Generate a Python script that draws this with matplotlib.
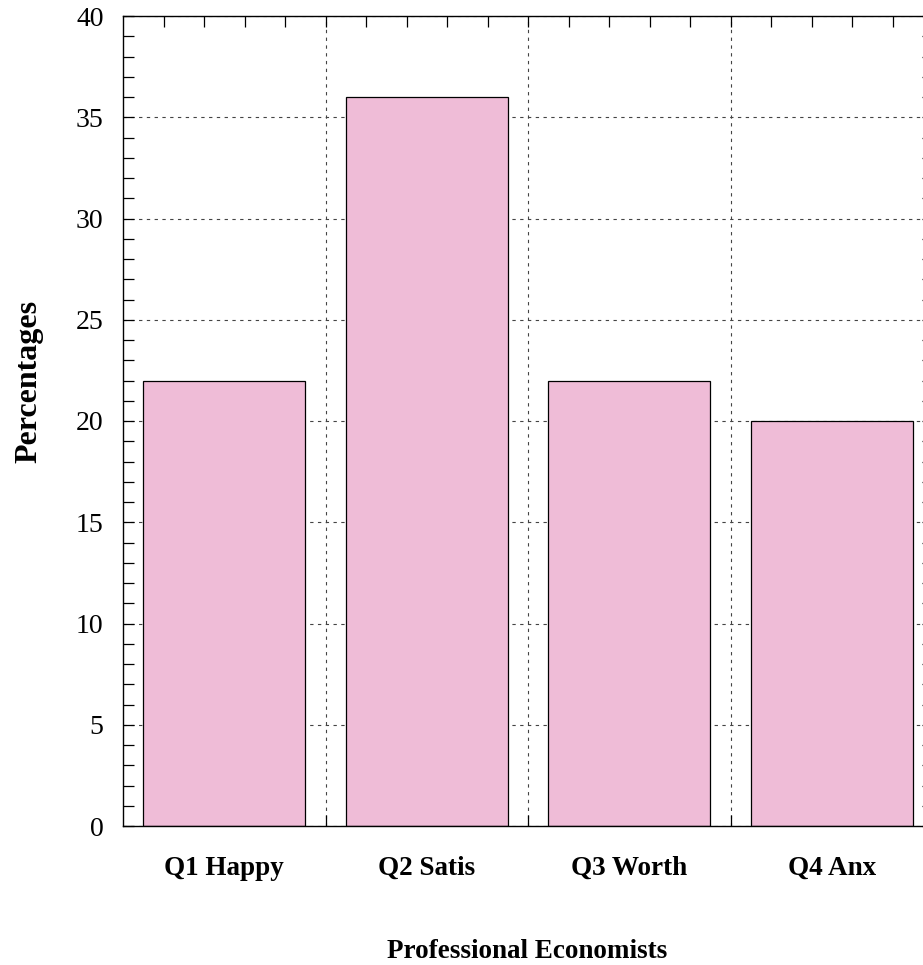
import numpy as np
import matplotlib.pyplot as plt
from matplotlib.ticker import MultipleLocator, FixedLocator

categories = ['Q1 Happy', 'Q2 Satis', 'Q3 Worth', 'Q4 Anx']
values = [22, 36, 22, 20]

plt.rcParams['font.family'] = ['Liberation Serif', 'DejaVu Serif']

W, H = 923, 965
fig = plt.figure(figsize=(W / 100, H / 100), dpi=100)
# plot area runs a little past the right edge of the image, as in the original
left, right, top, bottom = 123, 933, 16, 826
ax = fig.add_axes([left / W, 1 - bottom / H, (right - left) / W, (bottom - top) / H])

x = np.arange(len(categories))
ax.bar(x, values, width=0.8, color='#efbcd7', edgecolor='black', linewidth=0.9, zorder=2)

ax.set_xlim(-0.5, 3.5)
ax.set_ylim(0, 40)

ax.xaxis.set_major_locator(FixedLocator([0.5, 1.5, 2.5]))
ax.xaxis.set_minor_locator(FixedLocator(np.arange(-0.3, 3.5, 0.2)))
ax.set_xticklabels([])
ax.yaxis.set_major_locator(MultipleLocator(5))
ax.yaxis.set_minor_locator(MultipleLocator(1))

ax.tick_params(which='both', direction='in', top=True, right=True, length=8, width=0.9,
               labelsize=20)
ax.tick_params(axis='y', which='major', pad=14)
ax.grid(True, which='major', linestyle=(0, (3, 4)), color='#444444', linewidth=0.8, zorder=1)
for s in ax.spines.values():
    s.set_linewidth(1.0)

# category labels sit well below the axis, centred on each bar
trans = ax.transData + plt.matplotlib.transforms.ScaledTranslation(0, 0, fig.dpi_scale_trans)
for xi, lab in zip(x, categories):
    xpix = ax.transData.transform((xi, 0))[0]
    fig.text(xpix / W, 1 - 875 / H, lab, ha='center', va='baseline', fontsize=19.5,
             fontweight='bold')

fig.text(527.5 / W, 1 - 958 / H, 'Professional Economists', ha='center', va='baseline',
         fontsize=19.5, fontweight='bold')
fig.text(29 / W, 1 - 381 / H, 'Percentages', ha='center', va='center', rotation=90,
         fontsize=23, fontweight='bold')

fig.savefig('out.png', dpi=100)
